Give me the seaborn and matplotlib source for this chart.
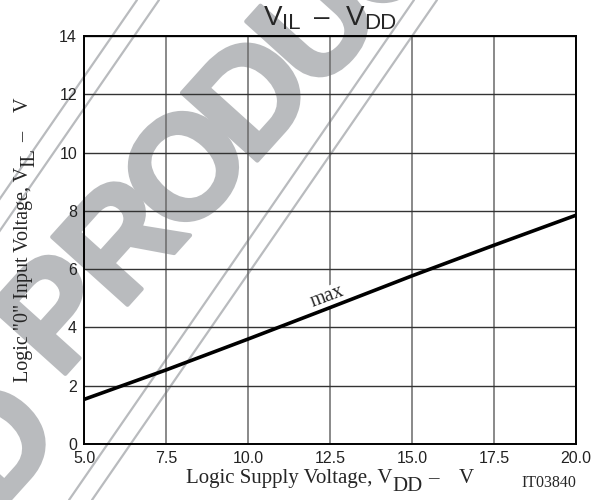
import matplotlib
matplotlib.use("Agg")
import matplotlib.pyplot as plt
import matplotlib.patheffects as pe
from matplotlib.lines import Line2D
import seaborn as sns
import pandas as pd
import math

# ---- data ----
vdd = [5.0, 7.5, 10.0, 12.5, 15.0, 17.5, 20.0]
vil_max = [1.53, 2.54, 3.60, 4.68, 5.77, 6.82, 7.85]
x_ticks = [5.0, 7.5, 10.0, 12.5, 15.0, 17.5, 20.0]
x_tick_labels = ["5.0", "7.5", "10.0", "12.5", "15.0", "17.5", "20.0"]
y_ticks = [0, 2, 4, 6, 8, 10, 12, 14]
y_tick_labels = ["0", "2", "4", "6", "8", "10", "12", "14"]
curve_label = "max"
curve_label_pos = (12.4, 5.05)
fig_code = "IT03840"
watermark = "PRODUCT"

df = pd.DataFrame({"vdd": vdd, "vil": vil_max})

sns.set_style("white")
W, H = 605, 500
fig = plt.figure(figsize=(W / 100, H / 100), dpi=100)
fig.patch.set_facecolor("white")

SANS = "Liberation Sans"
SERIF = "Liberation Serif"
GREY = "#b9bbbe"

def px(x, y):
    return x / W, 1 - y / H

L, R, T, B = 84, 576, 36, 444
ax = fig.add_axes([L / W, 1 - B / H, (R - L) / W, (B - T) / H])
ax.patch.set_alpha(0)

sns.lineplot(data=df, x="vdd", y="vil", color="black", lw=2.6, ax=ax, zorder=3)

ax.set_xlim(5, 20)
ax.set_ylim(0, 14)
ax.set_xticks(x_ticks)
ax.set_xticklabels(x_tick_labels, family=SANS, fontsize=11.5)
ax.set_yticks(y_ticks)
ax.set_yticklabels(y_tick_labels, family=SANS, fontsize=11.5)
ax.tick_params(axis="both", length=0, pad=5, colors="#222222")
ax.set_xlabel("")
ax.set_ylabel("")
ax.set_axisbelow(True)
ax.xaxis.grid(True, color="#6a6a6a", lw=1.1)
ax.yaxis.grid(True, color="#333333", lw=1.0)
for s in ax.spines.values():
    s.set_visible(True)
    s.set_color("black")
    s.set_linewidth(1.4)

ax.text(curve_label_pos[0], curve_label_pos[1], curve_label, rotation=20.5,
        ha="center", va="center", family=SERIF, fontsize=14.5, zorder=2,
        bbox=dict(facecolor="white", edgecolor="none", pad=0.3))

# ---- watermark (background decoration), letters laid out on a diagonal ----
ang = 48.0
ux, uy = math.cos(math.radians(ang)), -math.sin(math.radians(ang))
ox, oy = 182, 165          # centre of the "O"
k_o = watermark.index("O")
step = 97
wm_kw = dict(rotation=ang, rotation_mode="anchor", ha="center",
             va="center_baseline", fontsize=106, color=GREY, weight="bold",
             family=SANS, zorder=-2,
             path_effects=[pe.withStroke(linewidth=3, foreground=GREY)])
for k, ch in enumerate(watermark):
    off = (k - k_o) * step
    fig.text(*px(ox + off * ux, oy + off * uy), ch, **wm_kw)
fig.text(*px(-8, 440), "D", **wm_kw)
for c in (137, 159, 414, 437):
    x0, y0 = px(c, 0)
    x1, y1 = px(c - 0.69 * 500, 500)
    fig.add_artist(Line2D([x0, x1], [y0, y1], transform=fig.transFigure,
                          color=GREY, lw=1.6, zorder=-1))

# ---- multi-part texts (with subscripts) ----
fig.canvas.draw()
rend = fig.canvas.get_renderer()

def width(s, size, family):
    t = fig.text(0, 0, s, fontsize=size, family=family)
    w = t.get_window_extent(rend).width
    t.remove()
    return w

def seq(pieces, x0, y0, family):
    # pieces: (text, size, baseline shift px (down positive), gap before px)
    total = sum(width(s, sz, family) + g for s, sz, d, g in pieces)
    pos = x0 - total / 2
    for s, sz, d, g in pieces:
        pos += g
        fig.text(*px(pos, y0 + d), s, fontsize=sz, family=family,
                 ha="left", va="baseline")
        pos += width(s, sz, family)

def seq_rot(pieces, xb, yc, family):
    total = sum(width(s, sz, family) + g for s, sz, d, g in pieces)
    pos = yc + total / 2
    for s, sz, d, g in pieces:
        pos -= g
        fig.text(*px(xb + d, pos), s, fontsize=sz, family=family,
                 ha="left", va="baseline", rotation=90, rotation_mode="anchor")
        pos -= width(s, sz, family)

# title
seq([("V", 20, 0, 0), ("IL", 16, 4, 0), ("–", 20, 0, 14),
     ("V", 20, 0, 16), ("DD", 16, 4, 0)], 330, 25, SANS)

# x label
seq([("Logic Supply Voltage, V", 15, 0, 0), ("DD", 15, 8, 0),
     ("–", 15, 0, 6), ("V", 15, 0, 20)], 330, 483, SERIF)

# y label
seq_rot([('Logic "0" Input Voltage, V', 14.5, 0, 0), ("IL", 14.5, 6, 0),
         ("–", 14.5, 0, 6), ("V", 14.5, 0, 20)], 28, 240, SERIF)

fig.text(*px(576, 487), fig_code, fontsize=11.5, family=SERIF,
         ha="right", va="baseline")

fig.savefig("out.png", dpi=100, facecolor="white")
